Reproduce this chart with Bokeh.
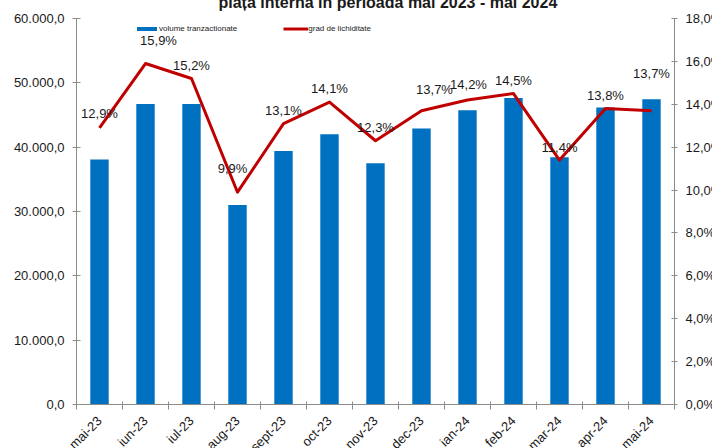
from bokeh.plotting import figure
from bokeh.models import (Range1d, LinearAxis, FixedTicker, Legend, LegendItem,
                          ColumnDataSource)
from bokeh.core.properties import value
from bokeh.embed import file_html
from bokeh.resources import INLINE
import numpy as np
import math

# ---------------- data ----------------
months = ["mai-23", "iun-23", "iul-23", "aug-23", "sept-23", "oct-23", "nov-23",
          "dec-23", "ian-24", "feb-24", "mar-24", "apr-24", "mai-24"]
volume = [38100, 46700, 46700, 31000, 39400, 42000, 37500,
          42900, 45750, 47650, 38450, 46150, 47450]
liquidity = [12.9, 15.9, 15.2, 9.9, 13.1, 14.1, 12.3,
             13.7, 14.2, 14.5, 11.4, 13.8, 13.7]

left_ticks = [0, 10000, 20000, 30000, 40000, 50000, 60000]
left_tick_labels = ["0,0", "10.000,0", "20.000,0", "30.000,0", "40.000,0",
                    "50.000,0", "60.000,0"]
right_ticks = [0, 2, 4, 6, 8, 10, 12, 14, 16, 18]
right_tick_labels = ["0,0%", "2,0%", "4,0%", "6,0%", "8,0%", "10,0%",
                     "12,0%", "14,0%", "16,0%", "18,0%"]

title_text = "piața internă în perioada mai 2023 - mai 2024"
legend_labels = ["volume tranzactionate", "grad de lichiditate"]

# ---------------- styles ----------------
FONT = "Liberation Sans"
BAR_COLOR = "#0070C0"
LINE_COLOR = "#C00000"
AXIS_COLOR = "#8C8C8C"
TEXT_COLOR = "#1A1A1A"
label_dx = [0, 13, 0, -5, 0, 0, 0, 13, 1, 0, 0, 0, 0]
label_dy = [-14, -23, -13, -24, -13, -14, -13, -21, -15, -13, -13, -13, -37]
TOP_SHIFT = 21   # the title sits mostly above the visible area, as in the reference

n = len(months)
centers = np.arange(n) + 0.5
boundaries = list(np.arange(n + 1).astype(float))
pct_labels = [("%.1f" % v).replace(".", ",") + "%" for v in liquidity]

src = ColumnDataSource(dict(x=centers, vol=volume, liq=liquidity, lab=pct_labels,
                            dx=label_dx, dy=label_dy))

p = figure(frame_width=598, frame_height=386, output_backend="svg",
           toolbar_location=None, x_range=Range1d(0, n), y_range=Range1d(0, 60000),
           min_border_left=76, min_border_top=18 + TOP_SHIFT, min_border_right=10,
           min_border_bottom=5, title=title_text)
p.margin = (-TOP_SHIFT, 0, 0, 0)
p.extra_y_ranges = {"pct": Range1d(0, 18)}
p.outline_line_color = None
p.xgrid.visible = False
p.ygrid.visible = False
p.background_fill_color = "white"
p.border_fill_color = "white"

p.title.align = "left"
p.title.offset = 142
p.title.standoff = 16
p.title.text_font = FONT
p.title.text_font_size = "16px"
p.title.text_font_style = "bold"
p.title.text_color = TEXT_COLOR

bars = p.vbar(x="x", top="vol", width=0.4, source=src, fill_color=BAR_COLOR,
              line_color=None)
line = p.line(x="x", y="liq", source=src, y_range_name="pct",
              line_color=LINE_COLOR, line_width=3, line_join="round")
p.text(x="x", y="liq", text="lab", source=src, y_range_name="pct",
       x_offset="dx", y_offset="dy", text_align="center", text_baseline="middle",
       text_font=value(FONT), text_font_size="13px", text_color=TEXT_COLOR)

# x axis
xa = p.xaxis[0]
xa.ticker = FixedTicker(ticks=list(centers), minor_ticks=boundaries)
xa.major_label_overrides = {float(c): m for c, m in zip(centers, months)}
xa.major_label_orientation = math.pi / 4
xa.major_tick_in = 0
xa.major_tick_out = 0
xa.minor_tick_in = 3
xa.minor_tick_out = 5
xa.minor_tick_line_color = AXIS_COLOR
xa.axis_line_color = AXIS_COLOR
xa.major_label_text_font = FONT
xa.major_label_text_font_size = "13px"
xa.major_label_text_color = TEXT_COLOR
xa.major_label_standoff = 9

# left y axis
ya = p.yaxis[0]
ya.ticker = FixedTicker(ticks=left_ticks, minor_ticks=[])
ya.major_label_overrides = {t: l for t, l in zip(left_ticks, left_tick_labels)}
ya.major_tick_in = 4
ya.major_tick_out = 4
ya.major_tick_line_color = AXIS_COLOR
ya.axis_line_color = AXIS_COLOR
ya.major_label_text_font = FONT
ya.major_label_text_font_size = "13px"
ya.major_label_text_color = TEXT_COLOR
ya.major_label_standoff = 8

# right y axis
ra = LinearAxis(y_range_name="pct",
                ticker=FixedTicker(ticks=right_ticks, minor_ticks=[]))
ra.major_label_overrides = {t: l for t, l in zip(right_ticks, right_tick_labels)}
ra.major_tick_in = 3
ra.major_tick_out = 3
ra.major_tick_line_color = AXIS_COLOR
ra.axis_line_color = AXIS_COLOR
ra.major_label_text_font = FONT
ra.major_label_text_font_size = "13px"
ra.major_label_text_color = TEXT_COLOR
ra.major_label_standoff = 8
p.add_layout(ra, "right")

# legend
legend = Legend(items=[LegendItem(label=legend_labels[0], renderers=[bars]),
                       LegendItem(label=legend_labels[1], renderers=[line])],
                orientation="horizontal", location=(58, 371),
                padding=0, margin=0, spacing=46, label_standoff=0,
                glyph_width=25, glyph_height=5, label_height=10,
                label_text_font=FONT, label_text_font_size="8px",
                label_text_color=TEXT_COLOR, border_line_color=None,
                background_fill_alpha=0)
p.add_layout(legend, "center")

open("out.html", "w").write(file_html(p, INLINE))
